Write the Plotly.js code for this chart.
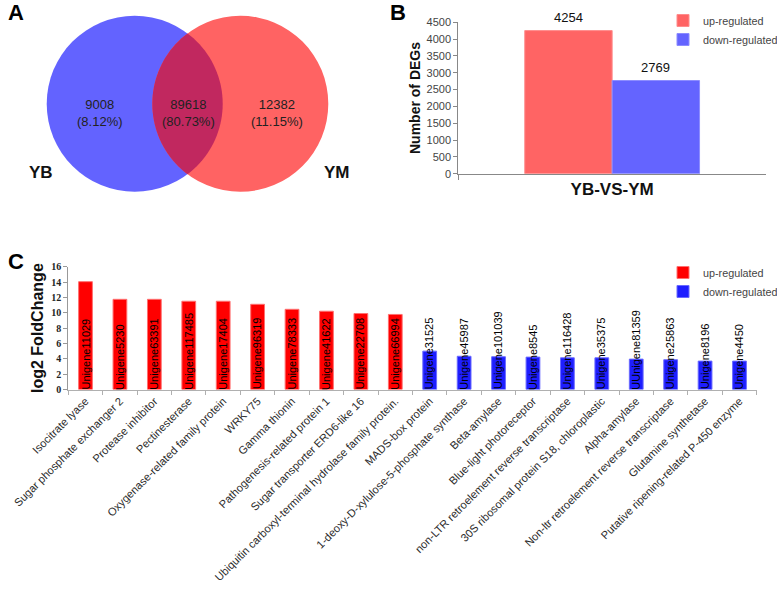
<!DOCTYPE html>
<html><head><meta charset="utf-8">
<script src="https://cdn.plot.ly/plotly-3.0.1.min.js"></script>
<style>html,body{margin:0;padding:0;background:#fff}#chart{width:777px;height:590px}</style>
</head><body><div id="chart"></div>
<script>
// ---------- Panel A: Venn ----------
const vennSets = ['YB', 'YM'];
const vennCounts = [9008, 89618, 12382];
const vennPercents = ['8.12%', '80.73%', '11.15%'];

// ---------- Panel B: number of DEGs ----------
const degGroup = ['YB-VS-YM'];
const degUp = [4254];
const degDown = [2769];

// ---------- Panel C: top genes ----------
const upGenes = ['Isocitrate lyase', 'Sugar phosphate exchanger 2', 'Protease inhibitor', 'Pectinesterase',
  'Oxygenase-related family protein', 'WRKY75', 'Gamma thionin', 'Pathogenesis-related protein 1',
  'Sugar transporter ERD6-like 16', 'Ubiquitin carboxyl-terminal hydrolase family protein.'];
const upIds = ['Unigene11029', 'Unigene5230', 'Unigene63391', 'Unigene117485', 'Unigene17404',
  'Unigene96319', 'Unigene78333', 'Unigene41622', 'Unigene22708', 'Unigene66994'];
const upLog2FC = [14.05, 11.75, 11.75, 11.5, 11.5, 11.1, 10.45, 10.2, 9.9, 9.78];

const downGenes = ['MADS-box protein', '1-deoxy-D-xylulose-5-phosphate synthase', 'Beta-amylase',
  'Blue-light photoreceptor', 'non-LTR retroelement reverse transcriptase',
  '30S ribosomal protein S18, chloroplastic', 'Alpha-amylase', 'Non-ltr retroelement reverse transcriptase',
  'Glutamine synthetase', 'Putative ripening-related P-450 enzyme'];
const downIds = ['Unigene31525', 'Unigene45987', 'Unigene101039', 'Unigene8545', 'Unigene116428',
  'Unigene35375', 'UUnigene81359', 'Unigene25863', 'Unigene8196', 'Unigene4450'];
const downLog2FC = [5.0, 4.33, 4.27, 4.22, 4.13, 4.13, 3.96, 3.88, 3.7, 3.7];

// ---------- helpers ----------
const W = 777, H = 590;
const px = x => x / W;
const py = y => 1 - y / H;
const FONT = 'Arial, "Liberation Sans", sans-serif';
const SERIF = '"Times New Roman", "Liberation Serif", serif';

const allGenes = upGenes.concat(downGenes);
const allIds = upIds.concat(downIds);
const BW = 0.284; // panel B bar width (category units)

const traces = [
  // Panel B
  { type: 'bar', x: degGroup, y: degUp, name: 'up-regulated', xaxis: 'x2', yaxis: 'y2',
    marker: { color: '#ff6464', line: { color: '#ff8c8c', width: 1 } },
    offset: -BW, width: BW, cliponaxis: false, legend: 'legend' },
  { type: 'bar', x: degGroup, y: degDown, name: 'down-regulated', xaxis: 'x2', yaxis: 'y2',
    marker: { color: '#6464ff', line: { color: '#8c8cff', width: 1 } },
    offset: 0, width: BW, cliponaxis: false, legend: 'legend' },
  // Panel C
  { type: 'bar', x: upGenes, y: upLog2FC, name: 'up-regulated', xaxis: 'x', yaxis: 'y',
    marker: { color: '#ff0000', line: { color: '#ff7070', width: 1 } },
    offset: -0.2, width: 0.4, legend: 'legend2' },
  { type: 'bar', x: downGenes, y: downLog2FC, name: 'down-regulated', xaxis: 'x', yaxis: 'y',
    marker: { color: '#1e1eff', line: { color: '#6a6aff', width: 1 } },
    offset: -0.2, width: 0.4, legend: 'legend2' }
];

const annotations = [];
// Panel letters
[['A', 15.5, 13], ['B', 397.5, 13], ['C', 16, 261]].forEach(([t, x, y]) => {
  annotations.push({ text: '<b>' + t + '</b>', xref: 'paper', yref: 'paper', x: px(x), y: py(y),
    xanchor: 'center', yanchor: 'middle', showarrow: false,
    font: { family: FONT, size: 22, color: '#000' } });
});
// Panel B value labels
[[-BW / 2, degUp[0]], [BW / 2, degDown[0]]].forEach(([x, v]) => {
  annotations.push({ text: String(v), xref: 'x2', yref: 'y2', x: x, y: v, xanchor: 'center',
    yanchor: 'bottom', yshift: 4, showarrow: false, font: { family: FONT, size: 13, color: '#111' } });
});
// Venn labels
const vennPos = [[100, 113], [188, 113], [277, 113]];
vennCounts.forEach((c, i) => {
  annotations.push({ text: c + '<br>(' + vennPercents[i] + ')', xref: 'x3', yref: 'y3',
    x: vennPos[i][0], y: vennPos[i][1], xanchor: 'center', yanchor: 'middle', showarrow: false,
    font: { family: FONT, size: 13, color: '#222' } });
});
[[41, 172], [337, 172]].forEach((p, i) => {
  annotations.push({ text: '<b>' + vennSets[i] + '</b>', xref: 'x3', yref: 'y3', x: p[0], y: p[1],
    xanchor: 'center', yanchor: 'middle', showarrow: false,
    font: { family: FONT, size: 17, color: '#111' } });
});
// Gene IDs inside bars (panel C)
allIds.forEach((id, i) => {
  annotations.push({ text: id, xref: 'x', yref: 'y', x: i, y: 0, textangle: -90,
    xanchor: 'center', yanchor: 'bottom', showarrow: false, borderpad: 0, yshift: -1,
    font: { family: FONT, size: 11, color: '#000' } });
});

// Venn geometry
const c1 = [134.7, 103.8], c2 = [240.3, 103.8], R = 88;
const shapes = [
  { type: 'circle', xref: 'x3', yref: 'y3', x0: c1[0] - R, x1: c1[0] + R, y0: c1[1] - R, y1: c1[1] + R,
    fillcolor: '#6363ff', line: { width: 0 }, layer: 'below' },
  { type: 'circle', xref: 'x3', yref: 'y3', x0: c2[0] - R, x1: c2[0] + R, y0: c2[1] - R, y1: c2[1] + R,
    fillcolor: '#ff6363', line: { width: 0 }, layer: 'below' }
];
(function () {
  const d = c2[0] - c1[0];
  const a = Math.acos((d / 2) / R);
  const pts = [];
  const N = 40;
  for (let k = 0; k <= N; k++) {
    const t = -a + (2 * a) * k / N;
    pts.push([c1[0] + R * Math.cos(t), c1[1] + R * Math.sin(t)]);
  }
  for (let k = 0; k <= N; k++) {
    const t = Math.PI - a + (2 * a) * k / N;
    pts.push([c2[0] + R * Math.cos(t), c2[1] + R * Math.sin(t)]);
  }
  const path = 'M' + pts.map(p => p[0].toFixed(2) + ',' + p[1].toFixed(2)).join('L') + 'Z';
  shapes.push({ type: 'path', xref: 'x3', yref: 'y3', path: path, fillcolor: '#c1285f',
    line: { width: 0 }, layer: 'below' });
})();

const layout = {
  width: W, height: H,
  margin: { l: 0, r: 0, t: 0, b: 0, pad: 0, autoexpand: false },
  paper_bgcolor: '#fff', plot_bgcolor: 'rgba(0,0,0,0)',
  barmode: 'group',
  showlegend: true,
  font: { family: FONT, color: '#333' },
  // Panel C axes
  xaxis: {
    domain: [px(68.3), px(756.7)], anchor: 'y', type: 'category',
    categoryorder: 'array', categoryarray: allGenes, range: [-0.5, 19.5],
    showline: true, linecolor: '#b0b0b0', linewidth: 1,
    ticks: 'outside', tickson: 'boundaries', ticklen: 4, tickcolor: '#b0b0b0',
    tickangle: -45, tickfont: { family: FONT, size: 11.1, color: '#2a2a2a' },
    showgrid: false, zeroline: false, fixedrange: true, automargin: false
  },
  yaxis: {
    domain: [py(389.5), py(266.7)], anchor: 'x', range: [0, 16], dtick: 2,
    showline: true, linecolor: '#999', linewidth: 1, ticks: 'outside', ticklen: 4, tickcolor: '#999',
    tickfont: { family: SERIF, size: 10, color: '#222', weight: 'bold' },
    showgrid: false, zeroline: false, automargin: false,
    title: { text: '<b>log2 FoldChange</b>', font: { family: FONT, size: 16, color: '#111' }, standoff: 3 }
  },
  // Panel B axes
  xaxis2: {
    domain: [px(458.3), px(766)], anchor: 'y2', type: 'category', range: [-0.5, 0.5],
    showline: true, linecolor: '#888', linewidth: 1,
    ticks: 'outside', tickson: 'boundaries', ticklen: 5, tickcolor: '#888',
    tickfont: { family: FONT, size: 17, color: '#111', weight: 'bold' },
    showgrid: false, zeroline: false, automargin: false
  },
  yaxis2: {
    domain: [py(173.7), py(22.3)], anchor: 'x2', range: [0, 4500], dtick: 500,
    showline: true, linecolor: '#888', linewidth: 1, ticks: 'outside', ticklen: 4, tickcolor: '#888',
    tickfont: { family: FONT, size: 11, color: '#444' },
    showgrid: false, zeroline: false, automargin: false,
    title: { text: '<b>Number of DEGs</b>', font: { family: FONT, size: 14, color: '#111' }, standoff: 2 }
  },
  // Panel A canvas (pixel units)
  xaxis3: { domain: [0, px(380)], anchor: 'y3', range: [0, 380], visible: false, fixedrange: true },
  yaxis3: { domain: [py(230), 1], anchor: 'x3', range: [230, 0], visible: false, fixedrange: true },
  legend: {
    x: px(663), y: py(6), xanchor: 'left', yanchor: 'top', bgcolor: 'rgba(0,0,0,0)',
    font: { family: FONT, size: 10.8, color: '#444' }, traceorder: 'normal'
  },
  legend2: {
    x: px(663), y: py(258), xanchor: 'left', yanchor: 'top', bgcolor: 'rgba(0,0,0,0)',
    font: { family: FONT, size: 10.8, color: '#444' }, traceorder: 'normal'
  },
  shapes: shapes,
  annotations: annotations
};

Plotly.newPlot('chart', traces, layout, { displayModeBar: false, staticPlot: true });
</script>
</body></html>
